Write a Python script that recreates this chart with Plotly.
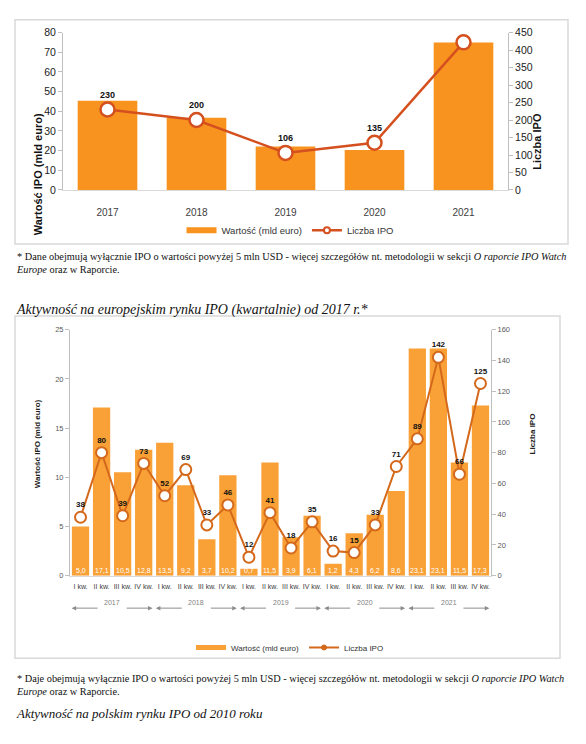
import plotly.graph_objects as go

W, H = 586, 744

# ---------------- data ----------------
years = ["2017", "2018", "2019", "2020", "2021"]
value_year = [45.3, 36.7, 22.1, 20.3, 75.0]
count_year = [230, 200, 106, 135, 422]

quarters = ["I kw.", "II kw.", "III kw.", "IV kw."] * 5
q_years = ["2017", "2018", "2019", "2020", "2021"]
value_q = [5.0, 17.1, 10.5, 12.8, 13.5, 9.2, 3.7, 10.2, 0.7, 11.5,
           3.9, 6.1, 1.2, 4.3, 6.2, 8.6, 23.1, 23.1, 11.5, 17.3]
count_q = [38, 80, 39, 73, 52, 69, 33, 46, 12, 41,
           18, 35, 16, 15, 33, 71, 89, 142, 66, 125]

y1_ticks = list(range(0, 81, 10))
y2_ticks = list(range(0, 451, 50))
y3_ticks = list(range(0, 26, 5))
y4_ticks = list(range(0, 161, 20))

NAME_VAL = "Wartość (mld euro)"
NAME_CNT = "Liczba IPO"

# ---------------- helpers ----------------
def px(x):
    return x / W

def py(y):
    return 1 - y / H

def fmt(v):
    return f"{v:.1f}".replace(".", ",")

SANS = "Liberation Sans, Arial, sans-serif"
SERIF = "Liberation Serif, Georgia, serif"
BAR1 = "#F7931E"
LINE1 = "#D5501F"
BAR2 = "#F9A136"
LINE2 = "#D4691C"
AX = "#BFBFBF"
TXT = "#404040"

qx = list(range(len(quarters)))

fig = go.Figure()

# ---------------- chart 1 ----------------
fig.add_trace(go.Bar(
    x=years, y=value_year, name=NAME_VAL, showlegend=False,
    marker=dict(color=BAR1, line=dict(width=0)),
    xaxis="x", yaxis="y", hoverinfo="skip",
))
fig.add_trace(go.Scatter(
    x=years, y=count_year, name=NAME_CNT, showlegend=False,
    mode="lines+markers+text",
    text=[str(v) for v in count_year], textposition="top center",
    textfont=dict(family=SANS, size=9, color="#111111", weight="bold"),
    line=dict(color=LINE1, width=2.5),
    marker=dict(size=14, color="white", line=dict(color=LINE1, width=2.5)),
    xaxis="x", yaxis="y2", hoverinfo="skip",
))
# legend entries chart 1
fig.add_trace(go.Scatter(x=[None], y=[None], mode="lines", name=NAME_VAL,
                         line=dict(color=BAR1, width=6), xaxis="x", yaxis="y", legend="legend"))
fig.add_trace(go.Scatter(x=[None], y=[None], mode="lines+markers", name=NAME_CNT,
                         line=dict(color=LINE1, width=2.5),
                         marker=dict(size=6, color="white", line=dict(color=LINE1, width=2)),
                         xaxis="x", yaxis="y2", legend="legend"))

# ---------------- chart 2 ----------------
fig.add_trace(go.Bar(
    x=qx, y=value_q, name=NAME_VAL, showlegend=False,
    marker=dict(color=BAR2, line=dict(width=0)),
    width=0.82,
    xaxis="x2", yaxis="y3", hoverinfo="skip",
))
fig.add_trace(go.Scatter(
    x=qx, y=count_q, name=NAME_CNT, showlegend=False,
    mode="lines+markers+text",
    text=[str(v) for v in count_q], textposition="top center",
    textfont=dict(family=SANS, size=8, color="#111111", weight="bold"),
    line=dict(color=LINE2, width=2),
    marker=dict(size=11, color="white", line=dict(color=LINE2, width=2)),
    xaxis="x2", yaxis="y4", hoverinfo="skip",
))
# legend entries chart 2
fig.add_trace(go.Scatter(x=[None], y=[None], mode="lines", name=NAME_VAL,
                         line=dict(color=BAR2, width=5), xaxis="x2", yaxis="y3", legend="legend2"))
fig.add_trace(go.Scatter(x=[None], y=[None], mode="lines+markers", name=NAME_CNT,
                         line=dict(color=LINE2, width=2),
                         marker=dict(size=5, color=LINE2, line=dict(color=LINE2, width=1)),
                         xaxis="x2", yaxis="y4", legend="legend2"))

annotations = []
shapes = []

# bar value labels chart 1
for yr, v in zip(years, value_year):
    annotations.append(dict(
        x=yr, y=0, xref="x", yref="y", text=fmt(v), showarrow=False,
        yanchor="bottom", yshift=1,
        font=dict(family=SANS, size=12, color="white")))

# bar value labels chart 2
for i, v in zip(qx, value_q):
    annotations.append(dict(
        x=i, y=0, xref="x2", yref="y3", text=fmt(v), showarrow=False,
        yanchor="bottom", yshift=0,
        font=dict(family=SANS, size=7, color="white")))

# year spans with arrows under chart 2
yy = py(612)
for k, yr in enumerate(q_years):
    c = 4 * k + 1.5
    left, right = 4 * k - 0.42, 4 * k + 3.42
    annotations.append(dict(
        x=c, y=yy, xref="x2", yref="paper", text=yr, showarrow=False,
        font=dict(family=SANS, size=7, color="#7F7F7F")))
    for head, tail in ((left, c - 0.62), (right, c + 0.62)):
        annotations.append(dict(
            x=head, y=yy, xref="x2", yref="paper", text="",
            showarrow=True, ax=tail, ay=0, axref="x2",
            arrowhead=2, arrowsize=0.9, arrowwidth=1, arrowcolor="#8C8C8C"))

# axis titles
annotations += [
    dict(x=px(30), y=py(107), xref="paper", yref="paper", text="<b>Wartość IPO (mld euro)</b>",
         textangle=-90, showarrow=False, font=dict(family=SANS, size=11, color="#111111")),
    dict(x=px(545), y=py(107), xref="paper", yref="paper", text="<b>Liczba IPO</b>",
         textangle=-90, showarrow=False, font=dict(family=SANS, size=11, color="#111111")),
    dict(x=px(31), y=py(445), xref="paper", yref="paper", text="<b>Wartość IPO (mld euro)</b>",
         textangle=-90, showarrow=False, font=dict(family=SANS, size=8, color="#222222")),
    dict(x=px(539), y=py(435), xref="paper", yref="paper", text="<b>Liczba IPO</b>",
         textangle=-90, showarrow=False, font=dict(family=SANS, size=8, color="#222222")),
]

# page texts
annotations += [
    dict(x=px(14), y=py(247), xref="paper", yref="paper", xanchor="left", yanchor="top",
         align="left", showarrow=False,
         text="* Dane obejmują wyłącznie IPO o wartości powyżej 5 mln USD - więcej szczegółów nt. metodologii w sekcji <i>O raporcie IPO Watch</i><br><i>Europe</i> oraz w Raporcie.",
         font=dict(family=SERIF, size=10.3, color="#111111")),
    dict(x=px(14), y=py(309), xref="paper", yref="paper", xanchor="left", yanchor="middle",
         showarrow=False,
         text="<i>Aktywność na europejskim rynku IPO (kwartalnie) od 2017 r.*</i>",
         font=dict(family=SERIF, size=14, color="#111111")),
    dict(x=px(14), y=py(676), xref="paper", yref="paper", xanchor="left", yanchor="top",
         align="left", showarrow=False,
         text="* Daje obejmują wyłącznie IPO o wartości powyżej 5 mln USD - więcej szczegółów nt. metodologii w sekcji <i>O raporcie IPO Watch</i><br><i>Europe</i> oraz w Raporcie.",
         font=dict(family=SERIF, size=10.3, color="#111111")),
    dict(x=px(14), y=py(719), xref="paper", yref="paper", xanchor="left", yanchor="middle",
         showarrow=False,
         text="<i>Aktywność na polskim rynku IPO od 2010 roku</i>",
         font=dict(family=SERIF, size=13, color="#111111")),
]

# boxes
shapes += [
    dict(type="rect", xref="paper", yref="paper", x0=px(15), x1=px(568), y0=py(14), y1=py(242),
         line=dict(color="#D9D9D9", width=1.5), fillcolor="rgba(0,0,0,0)", layer="below"),
    dict(type="rect", xref="paper", yref="paper", x0=px(15), x1=px(560), y0=py(315), y1=py(663),
         line=dict(color="#D9D9D9", width=1.5), fillcolor="rgba(0,0,0,0)", layer="below"),
]

axis_common = dict(showgrid=False, zeroline=False, showline=True, linecolor=AX, linewidth=1,
                   ticks="outside", tickcolor=AX, ticklen=4, fixedrange=True)

fig.update_layout(
    width=W, height=H,
    margin=dict(l=0, r=0, t=0, b=0),
    paper_bgcolor="white", plot_bgcolor="rgba(0,0,0,0)",
    showlegend=True,
    barmode="overlay",
    bargap=0.33,
    hovermode=False,
    xaxis=dict(domain=[px(63), px(508)], anchor="y", type="category",
               showgrid=False, zeroline=False, showline=True, linecolor="#D9D9D9",
               ticks="outside", ticklen=13, tickcolor="rgba(0,0,0,0)", fixedrange=True,
               tickfont=dict(family=SANS, size=10, color=TXT), range=[-0.5, 4.5]),
    yaxis=dict(domain=[py(187), py(27)], anchor="x", range=[0, 80], tickvals=y1_ticks,
               tickfont=dict(family=SANS, size=10.5, color="#222222"), **axis_common),
    yaxis2=dict(overlaying="y", side="right", anchor="x", range=[0, 450], tickvals=y2_ticks,
                tickfont=dict(family=SANS, size=10.5, color="#222222"), **axis_common),
    xaxis2=dict(domain=[px(70), px(491)], anchor="y3", range=[-0.5, 19.5],
                tickvals=qx, ticktext=quarters, fixedrange=True,
                showgrid=False, zeroline=False, showline=True, linecolor="#D9D9D9",
                ticks="outside", ticklen=4, tickcolor="rgba(0,0,0,0)",
                tickfont=dict(family=SANS, size=7, color=TXT)),
    yaxis3=dict(domain=[py(579), py(329)], anchor="x2", range=[0, 25], tickvals=y3_ticks,
                tickfont=dict(family=SANS, size=7.5, color="#595959"), **axis_common),
    yaxis4=dict(overlaying="y3", side="right", anchor="x2", range=[0, 160], tickvals=y4_ticks,
                tickfont=dict(family=SANS, size=7.5, color="#595959"), **axis_common),
    legend=dict(orientation="h", x=px(290), xanchor="center", y=py(228), yanchor="middle",
                font=dict(family=SANS, size=9.5, color="#333333"), bgcolor="rgba(0,0,0,0)",
                itemwidth=30, tracegroupgap=0),
    legend2=dict(orientation="h", x=px(290), xanchor="center", y=py(652), yanchor="middle",
                 font=dict(family=SANS, size=8, color="#333333"), bgcolor="rgba(0,0,0,0)",
                 itemwidth=30, tracegroupgap=0),
    annotations=annotations,
    shapes=shapes,
)

fig.write_html("out.html", config={"displayModeBar": False, "staticPlot": True},
               post_script="document.body.style.margin='0';document.body.style.padding='0';")
